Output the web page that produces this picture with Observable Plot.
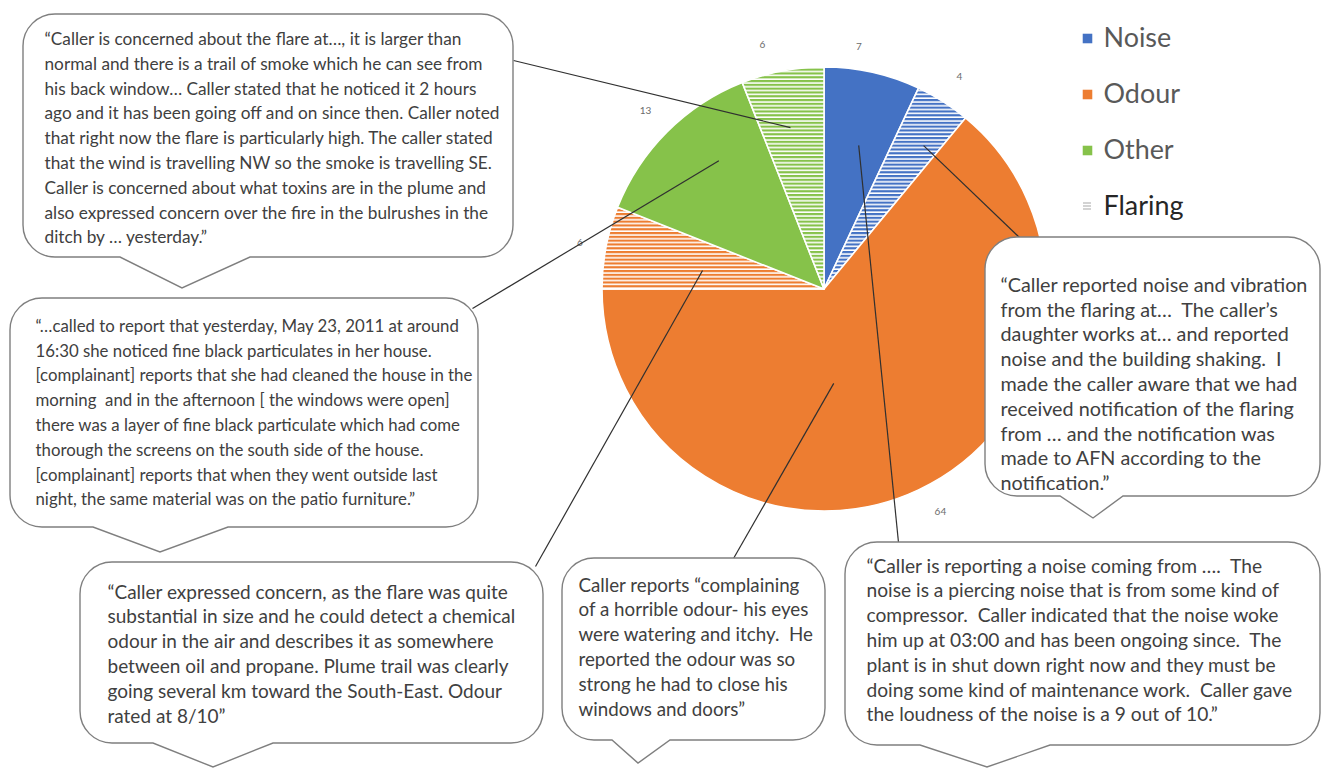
<!DOCTYPE html>
<html>
<head>
<meta charset="utf-8">
<script src="https://cdn.jsdelivr.net/npm/d3@7"></script>
<script src="https://cdn.jsdelivr.net/npm/@observablehq/plot@0.6"></script>
<style>
html, body { margin: 0; padding: 0; background: #ffffff; }
#chart svg { display: block; }
</style>
</head>
<body>
<div id="chart"></div>
<script>
// ---------------- DATA ----------------
const sliceCategory = ["Noise", "Noise", "Odour", "Odour", "Other", "Other"];
const sliceFlaring  = [false, true, false, true, false, true];
const sliceCount    = [7, 4, 64, 6, 13, 6];
const sliceLabel    = sliceCount.map(String);

const legendLabels  = ["Noise", "Odour", "Other", "Flaring"];

const callout1 = [
  "\u201CCaller is concerned about the flare at\u2026, it is larger than",
  "normal and there is a trail of smoke which he can see from",
  "his back window\u2026 Caller stated that he noticed it 2 hours",
  "ago and it has been going off and on since then. Caller noted",
  "that right now the flare is particularly high. The caller stated",
  "that the wind is travelling NW so the smoke is travelling SE.",
  "Caller is concerned about what toxins are in the plume and",
  "also expressed concern over the fire in the bulrushes in the",
  "ditch by \u2026 yesterday.\u201D"
];
const callout2 = [
  "\u201C\u2026called to report that yesterday, May 23, 2011 at around",
  "16:30 she noticed fine black particulates in her house.",
  "[complainant] reports that she had cleaned the house in the",
  "morning  and in the afternoon [ the windows were open]",
  "there was a layer of fine black particulate which had come",
  "thorough the screens on the south side of the house.",
  "[complainant] reports that when they went outside last",
  "night, the same material was on the patio furniture.\u201D"
];
const callout3 = [
  "\u201CCaller expressed concern, as the flare was quite",
  "substantial in size and he could detect a chemical",
  "odour in the air and describes it as somewhere",
  "between oil and propane. Plume trail was clearly",
  "going several km toward the South-East. Odour",
  "rated at 8/10\u201D"
];
const callout4 = [
  "Caller reports \u201Ccomplaining",
  "of a horrible odour- his eyes",
  "were watering and itchy.  He",
  "reported the odour was so",
  "strong he had to close his",
  "windows and doors\u201D"
];
const callout5 = [
  "\u201CCaller reported noise and vibration",
  "from the flaring at\u2026  The caller\u2019s",
  "daughter works at\u2026 and reported",
  "noise and the building shaking.  I",
  "made the caller aware that we had",
  "received notification of the flaring",
  "from \u2026 and the notification was",
  "made to AFN according to the",
  "notification.\u201D"
];
const callout6 = [
  "\u201CCaller is reporting a noise coming from \u2026.  The",
  "noise is a piercing noise that is from some kind of",
  "compressor.  Caller indicated that the noise woke",
  "him up at 03:00 and has been ongoing since.  The",
  "plant is in shut down right now and they must be",
  "doing some kind of maintenance work.  Caller gave",
  "the loudness of the noise is a 9 out of 10.\u201D"
];

// ---------------- STYLE / LAYOUT ----------------
const W = 1325, H = 768;
const categoryColors = {Noise: "#4472C4", Odour: "#ED7D31", Other: "#86C24A"};
const FONT = "Lato";
const TEXT_COLOR = "#404040";
const PIE = {cx: 824, cy: 289, r: 222};
const LINE_H = 24.8;

// value-label placement: fraction across the slice + radius
const labelPlace = [
  {t: 0.32, rad: 245}, {t: 0.5, rad: 252}, {t: 0.49, rad: 251},
  {t: 0.5, rad: 249},  {t: 0.5, rad: 253}, {t: 0.34, rad: 252}
];

const callouts = [
  {lines: callout1, box: [23, 14, 513, 257],   tail: [120, 250, 182, 288],  tx: 44,   ty: 39,  w: 456, from: [513, 60],   slice: 5, t: 0.45, f: 0.745},
  {lines: callout2, box: [10, 298, 478, 527],  tail: [93, 228, 160, 552],   tx: 35,   ty: 326, w: 437, from: [472, 308],  slice: 4, t: 0.62, f: 0.75},
  {lines: callout3, box: [80, 562, 543, 743],  tail: [153, 273, 213, 767],  tx: 107,  ty: 592, w: 408, from: [535, 566],  slice: 3, t: 0.41, f: 0.556},
  {lines: callout4, box: [562, 558, 825, 740], tail: [612, 670, 638, 763],  tx: 578,  ty: 585, w: 235, from: [733, 558],  slice: 2, t: 0.585, f: 0.425},
  {lines: callout5, box: [985, 237, 1320, 496],tail: [1060, 1123, 1093, 518], tx: 1000, ty: 285, w: 308, from: [1020, 238], slice: 1, t: 0.65, f: 0.787},
  {lines: callout6, box: [845, 542, 1320, 745],tail: [920, 1050, 987, 767], tx: 866,  ty: 566, w: 427, from: [898, 542],  slice: 0, t: 0.53, f: 0.667}
];

const legendLayout = {sx: 1087, tx: 1103, ys: [38, 94, 150, 206], w: 80};

// ---------------- DERIVED ----------------
const slices = sliceCount.map((count, i) => ({
  category: sliceCategory[i], flaring: sliceFlaring[i], count, label: sliceLabel[i]
}));
const arcs = d3.pie().sort(null).value(d => d.count)(slices);
const polar = (a, rho) => [PIE.cx + rho * Math.sin(a), PIE.cy - rho * Math.cos(a)];

const valueLabels = arcs.map((a, i) => {
  const ang = a.startAngle + labelPlace[i].t * (a.endAngle - a.startAngle);
  const [x, y] = polar(ang, labelPlace[i].rad);
  return {x, y, text: a.data.label};
});

const leaders = callouts.map(c => {
  const a = arcs[c.slice];
  const ang = a.startAngle + c.t * (a.endAngle - a.startAngle);
  const [x2, y2] = polar(ang, c.f * PIE.r);
  return {x1: c.from[0], y1: c.from[1], x2, y2};
});

const ctx = document.createElement("canvas").getContext("2d");
function fitSize(lines, target, family) {
  ctx.font = `100px ${family}`;
  const m = d3.max(lines, s => ctx.measureText(s).width);
  return 100 * target / m;
}

function ident(s) { return s && typeof s === "function" ? s : (v => v); }

// pie + hatch patterns
function pieMark(index, scales) {
  const X = ident(scales && scales.x), Y = ident(scales && scales.y);
  const g = d3.create("svg:g");
  const defs = g.append("defs");
  for (const cat of Object.keys(categoryColors)) {
    const p = defs.append("pattern").attr("id", "hatch-" + cat)
      .attr("patternUnits", "userSpaceOnUse").attr("width", 8).attr("height", 3.8);
    p.append("rect").attr("width", 8).attr("height", 3.8).attr("fill", "#ffffff");
    p.append("rect").attr("width", 8).attr("height", 2.2).attr("fill", categoryColors[cat]);
  }
  const cx = X(PIE.cx), cy = Y(PIE.cy), r = X(PIE.cx + PIE.r) - cx;
  const arc = d3.arc().innerRadius(0).outerRadius(r);
  g.append("g").attr("transform", `translate(${cx},${cy})`)
    .selectAll("path").data(arcs).join("path")
    .attr("d", arc)
    .attr("fill", d => d.data.flaring ? `url(#hatch-${d.data.category})` : categoryColors[d.data.category])
    .attr("stroke", "#ffffff").attr("stroke-width", 1.6).attr("stroke-linejoin", "round");
  return g.node();
}

// speech bubbles
function bubbleMark(index, scales) {
  const X = ident(scales && scales.x), Y = ident(scales && scales.y);
  const g = d3.create("svg:g");
  for (const c of callouts) {
    const [x0, y0, x1, y1] = [X(c.box[0]), Y(c.box[1]), X(c.box[2]), Y(c.box[3])];
    const [ta, tb, tx, ty] = [X(c.tail[0]), X(c.tail[1]), X(c.tail[2]), Y(c.tail[3])];
    const r = Math.min(32, (y1 - y0) / 4);
    const p = d3.path();
    p.moveTo(x0 + r, y0);
    p.lineTo(x1 - r, y0);
    p.arcTo(x1, y0, x1, y0 + r, r);
    p.lineTo(x1, y1 - r);
    p.arcTo(x1, y1, x1 - r, y1, r);
    p.lineTo(tb, y1);
    p.lineTo(tx, ty);
    p.lineTo(ta, y1);
    p.lineTo(x0 + r, y1);
    p.arcTo(x0, y1, x0, y1 - r, r);
    p.lineTo(x0, y0 + r);
    p.arcTo(x0, y0, x0 + r, y0, r);
    p.closePath();
    g.append("path").attr("d", p.toString())
      .attr("fill", "#ffffff").attr("stroke", "#7f7f7f").attr("stroke-width", 1.4);
  }
  return g.node();
}

// legend flaring swatch
function flaringSwatch(index, scales) {
  const X = ident(scales && scales.x), Y = ident(scales && scales.y);
  const g = d3.create("svg:g");
  const cx = X(legendLayout.sx), cy = Y(legendLayout.ys[3]);
  for (const dy of [-3, 0, 3]) {
    g.append("line").attr("x1", cx - 4).attr("x2", cx + 4)
      .attr("y1", cy + dy).attr("y2", cy + dy)
      .attr("stroke", "#b0b0b0").attr("stroke-width", 1.1);
  }
  return g.node();
}

const textMarks = callouts.map(c => {
  const fs = fitSize(c.lines, c.w, FONT);
  const data = c.lines.map((t, i) => ({x: c.tx, y: c.ty + i * LINE_H, text: t}));
  return Plot.text(data, {
    x: "x", y: "y", text: "text", textAnchor: "start", lineAnchor: "middle",
    fontSize: fs, fontFamily: FONT, fill: TEXT_COLOR
  });
});

const legendFs = (() => { ctx.font = `100px ${FONT}`; return 100 * legendLayout.w / ctx.measureText("Flaring").width; })();
const legendData = legendLabels.map((name, i) => ({x: legendLayout.tx, y: legendLayout.ys[i], text: name}));
const legendSwatches = legendLabels.slice(0, 3).map((name, i) =>
  Plot.dot([{x: legendLayout.sx, y: legendLayout.ys[i]}], {
    x: "x", y: "y", symbol: "square", r: 5.4, fill: categoryColors[name], stroke: "none"
  })
);

const chart = Plot.plot({
  width: W, height: H,
  marginTop: 0, marginRight: 0, marginBottom: 0, marginLeft: 0,
  x: {domain: [0, W], range: [0, W], axis: null},
  y: {domain: [0, H], range: [0, H], axis: null},
  style: {background: "#ffffff", fontFamily: FONT, overflow: "visible"},
  marks: [
    pieMark,
    Plot.text(valueLabels, {x: "x", y: "y", text: "text", fontSize: 10, fontFamily: FONT, fill: "#6b6b6b"}),
    Plot.link(leaders, {x1: "x1", y1: "y1", x2: "x2", y2: "y2", stroke: "#303030", strokeWidth: 1.2}),
    bubbleMark,
    ...textMarks,
    ...legendSwatches,
    flaringSwatch,
    Plot.text(legendData.slice(0, 3), {x: "x", y: "y", text: "text", textAnchor: "start", fontSize: legendFs, fontFamily: FONT, fill: "#595959"}),
    Plot.text(legendData.slice(3), {x: "x", y: "y", text: "text", textAnchor: "start", fontSize: legendFs, fontFamily: FONT, fill: "#262626"})
  ]
});

document.getElementById("chart").appendChild(chart);
</script>
</body>
</html>
